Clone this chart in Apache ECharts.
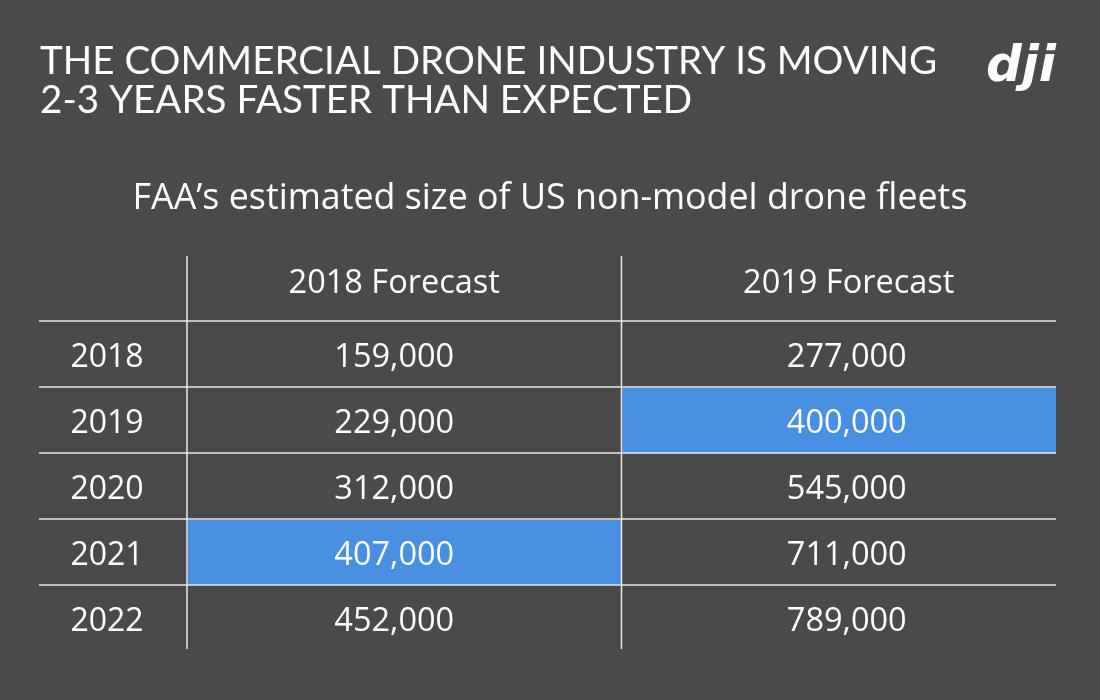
<!DOCTYPE html>
<html>
<head>
<meta charset="utf-8">
<script src="https://cdn.jsdelivr.net/npm/echarts@6/dist/echarts.min.js"></script>
<style>
html,body{margin:0;padding:0;background:#4a4a4a;}
#chart{width:1100px;height:700px;}
</style>
</head>
<body>
<div id="chart"></div>
<script>
const titleText = 'THE COMMERCIAL DRONE INDUSTRY IS MOVING\n2-3 YEARS FASTER THAN EXPECTED';
const subtitleText = 'FAA\u2019s estimated size of US non-model drone fleets';
const columns = ['2018 Forecast', '2019 Forecast'];
const years = ['2018', '2019', '2020', '2021', '2022'];
const forecast2018 = [159000, 229000, 312000, 407000, 452000];
const forecast2019 = [277000, 400000, 545000, 711000, 789000];
// highlighted cells: [columnIndex, rowIndex]
const highlighted = [[0, 3], [1, 1]];

const LINE = '#e8e8e8';
const BLUE = '#4a90e2';
const FONT = '"Open Sans", sans-serif';
const COL_SHIFT = [-10, 8];

const fmt = v => v.toLocaleString('en-US');
const cellData = [];
[forecast2018, forecast2019].forEach((arr, c) => {
  arr.forEach((v, r) => {
    const hl = highlighted.some(h => h[0] === c && h[1] === r) ? 1 : 0;
    cellData.push([c, r, v, hl]);
  });
});

const chart = echarts.init(document.getElementById('chart'));
chart.setOption({
  backgroundColor: '#4a4a4a',
  animation: false,
  title: [
    {
      text: titleText, left: 40, top: 42, padding: 0,
      textStyle: { color: '#ffffff', fontFamily: 'Lato, sans-serif', fontWeight: 'normal', fontSize: 38.6, lineHeight: 39 }
    },
    {
      text: subtitleText, left: 'center', top: 181, padding: 0,
      textStyle: { color: '#ffffff', fontFamily: FONT, fontWeight: 'normal', fontSize: 35.8 }
    }
  ],
  graphic: [
    {
      type: 'text', right: 44, top: 43,
      style: { text: 'dji', fill: '#ffffff', font: 'italic 900 50px "DejaVu Sans", sans-serif' }
    }
  ],
  grid: { left: 187, right: 44, top: 321, bottom: 49 },
  xAxis: {
    type: 'category', data: columns, position: 'top',
    axisLine: { show: false }, axisTick: { show: false }, splitLine: { show: false },
    axisLabel: {
      color: '#ffffff', fontFamily: FONT, fontSize: 32.5, margin: 21,
      formatter: (v, i) => (i === 0 ? '{l|' : '{r|') + v + '}',
      rich: {
        l: { color: '#ffffff', fontFamily: FONT, fontSize: 32.5, padding: [0, 20, 0, 0] },
        r: { color: '#ffffff', fontFamily: FONT, fontSize: 32.5, padding: [0, 0, 0, 20] }
      }
    }
  },
  yAxis: {
    type: 'category', data: years, inverse: true,
    axisLine: { show: false }, axisTick: { show: false }, splitLine: { show: false },
    axisLabel: {
      color: '#ffffff', fontFamily: FONT, fontSize: 32, margin: 80, align: 'center',
      formatter: v => '{y|' + v + '}',
      rich: { y: { color: '#ffffff', fontFamily: FONT, fontSize: 32, padding: [8, 0, 0, 0] } }
    }
  },
  series: [
    {
      type: 'custom', name: 'cells', data: cellData, encode: { x: 0, y: 1 }, clip: false, z: 1,
      renderItem: (params, api) => {
        const col = api.value(0);
        const c = api.coord([col, api.value(1)]);
        const s = api.size([1, 1]);
        const children = [];
        if (api.value(3)) {
          children.push({ type: 'rect', shape: { x: c[0] - s[0] / 2 + 1, y: c[1] - s[1] / 2 + 1, width: s[0] - 1, height: s[1] - 1 }, style: { fill: BLUE } });
        }
        children.push({ type: 'text', style: { text: fmt(api.value(2)), x: c[0] + COL_SHIFT[col], y: c[1] + 4, align: 'center', verticalAlign: 'middle', fill: '#ffffff', font: '32.5px ' + FONT } });
        return { type: 'group', children };
      }
    },
    {
      type: 'custom', name: 'hlines', data: years.map((y, i) => [0, i]), encode: { x: 0, y: 1 }, clip: false, z: 3,
      renderItem: (params, api) => {
        const c0 = api.coord([0, api.value(1)]);
        const c1 = api.coord([columns.length - 1, api.value(1)]);
        const s = api.size([1, 1]);
        const y = c0[1] - s[1] / 2;
        return { type: 'line', shape: { x1: c0[0] - s[0] / 2 - 148, y1: y, x2: c1[0] + s[0] / 2, y2: y }, style: { stroke: LINE, lineWidth: 1.5 } };
      }
    },
    {
      type: 'custom', name: 'vlines', data: columns.map((c, i) => [i, 0]), encode: { x: 0, y: 1 }, clip: false, z: 3,
      renderItem: (params, api) => {
        const c0 = api.coord([api.value(0), 0]);
        const c1 = api.coord([api.value(0), years.length - 1]);
        const s = api.size([1, 1]);
        const x = c0[0] - s[0] / 2;
        return { type: 'line', shape: { x1: x, y1: c0[1] - s[1] / 2 - 65, x2: x, y2: c1[1] + s[1] / 2 - 2 }, style: { stroke: LINE, lineWidth: 1.5 } };
      }
    }
  ]
});
</script>
</body>
</html>
